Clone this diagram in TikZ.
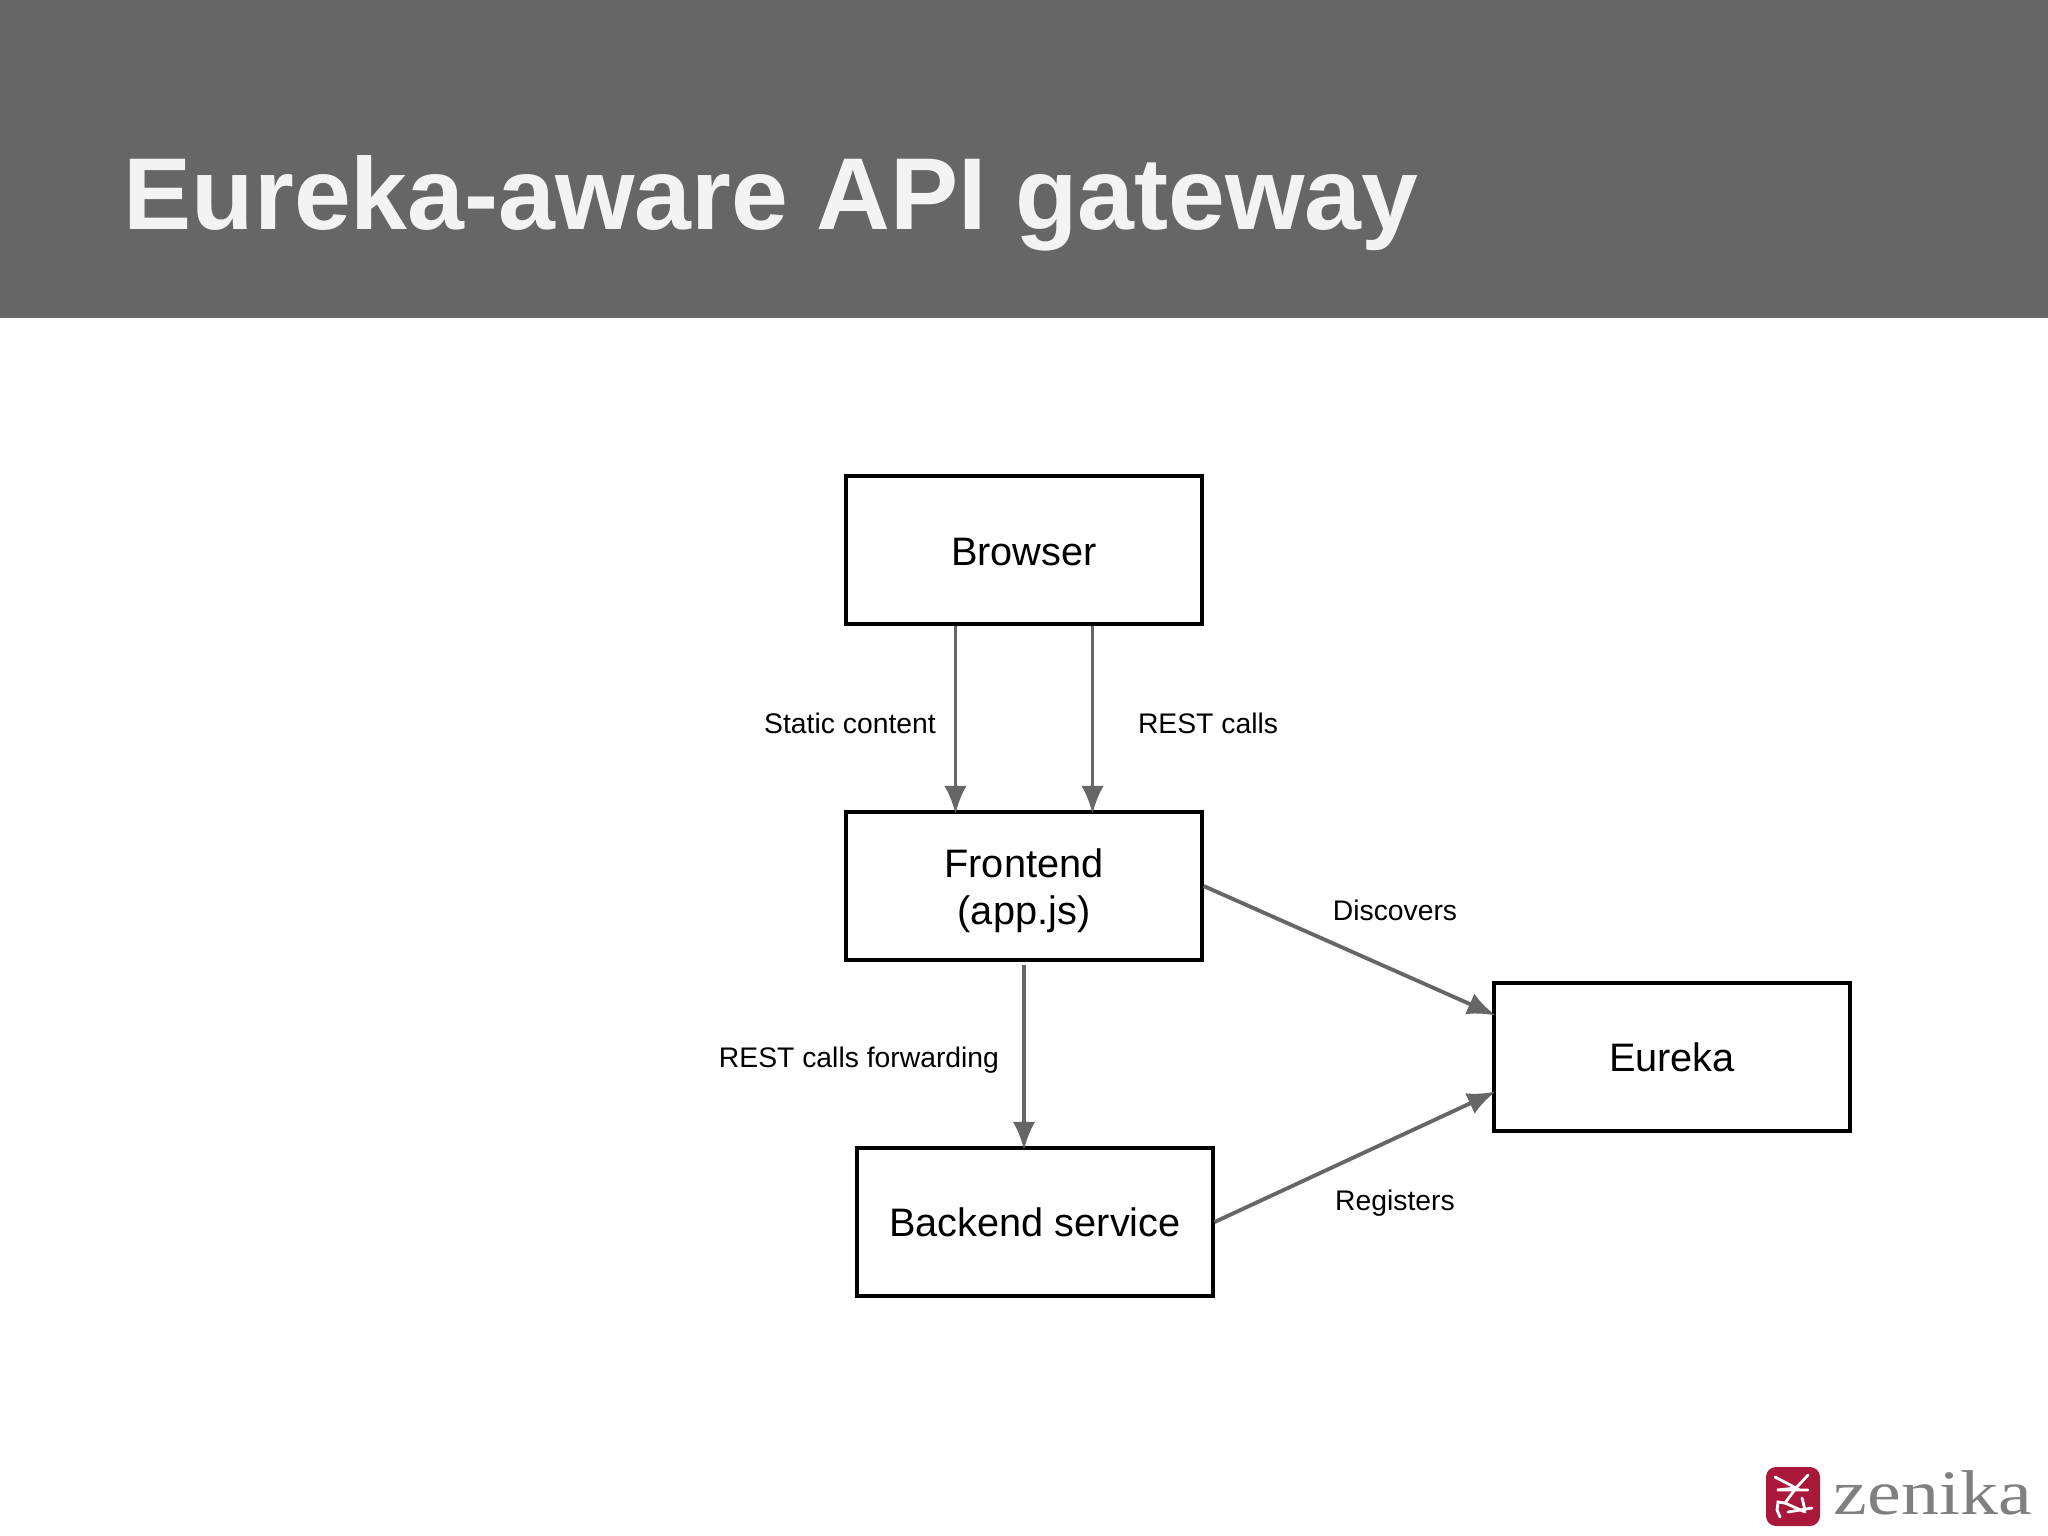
\documentclass[tikz,border=0pt]{standalone}
\usepackage{fontspec}
\setmainfont{Liberation Sans}
\newfontfamily\logofont{Liberation Serif}
\usetikzlibrary{arrows.meta}
\definecolor{headergray}{HTML}{666666}
\definecolor{titlewhite}{HTML}{F3F3F3}
\definecolor{flowgray}{HTML}{666666}
\definecolor{logored}{HTML}{A9173A}
\definecolor{logogray}{HTML}{808080}
\tikzset{
  box/.style={draw=black, line width=1.15pt, fill=white, minimum width=3.55cm, minimum height=1.47cm, inner sep=0pt, align=center, font=\fontsize{11.3}{13.2}\selectfont},
  flow/.style={draw=flowgray, line width=1.1pt, shorten >=-0.035cm, -{Latex[length=8pt,width=6.4pt]}},
  flowlabel/.style={inner sep=0pt, font=\fontsize{8.05}{9.5}\selectfont},
  glyph/.style={draw=white, line width=0.8pt, line cap=round}
}
\begin{document}
\begin{tikzpicture}[x=0.01cm,y=0.01cm]
\useasboundingbox (0,0) rectangle (2048,-1536);
% header
\fill [headergray] (0,0) rectangle (2048,-318);
\node (title) [anchor=base west, inner sep=0pt, text=titlewhite, font=\fontsize{29.05}{34}\selectfont\bfseries] at (123,-229) {Eureka-aware API gateway};
% boxes
\node (browser) [box] at (1024,-550) {\rule{0pt}{9pt}Browser};
\node (frontend) [box] at (1024,-886) {\rule{0pt}{10.9pt}Frontend\\(app.js)};
\node (backend) [box] at (1035,-1222) {Backend service};
\node (eureka) [box] at (1672,-1057) {Eureka};
% connectors
\coordinate (staticout) at ([xshift=-0.685cm]browser.south);
\coordinate (restout) at ([xshift=0.685cm]browser.south);
\coordinate (discoverin) at ([yshift=0.43cm]eureka.west);
\coordinate (registerin) at ([yshift=-0.36cm]eureka.west);
\coordinate (forwardout) at ([yshift=-0.03cm]frontend.south);
\draw [flow] (staticout) -- (staticout |- frontend.north);
\draw [flow] (restout) -- (restout |- frontend.north);
\draw [flow] (forwardout) -- (backend.north -| forwardout);
\draw [flow] (frontend.east) -- (discoverin);
\draw [flow] (backend.east) -- (registerin);
% labels
\node (staticlabel) [flowlabel] at (850,-723) {Static content};
\node (restlabel) [flowlabel] at (1208,-723) {REST calls};
\node (forwardlabel) [flowlabel] at (859,-1060) {REST calls forwarding};
\node (discoverlabel) [flowlabel] at (1395,-910) {Discovers};
\node (registerlabel) [flowlabel] at (1395,-1203) {Registers};
% logo
\fill [logored, rounded corners=0.1cm] (1766,-1467) rectangle (1820,-1526);
\draw [glyph] (1775,-1477) -- (1796,-1488) -- (1777,-1490) -- (1808,-1490);
\draw [glyph] (1808,-1475) -- (1796,-1488) -- (1785,-1503) -- (1805,-1512);
\draw [glyph] (1785,-1503) -- (1778,-1502) -- (1777,-1510) -- (1780,-1517);
\draw [glyph] (1812,-1508) -- (1788,-1512);
\draw [glyph] (1802,-1498) -- (1805,-1510);
\node (zenika) [anchor=base west, inner sep=0pt, text=logogray, xscale=1.2, font=\logofont\fontsize{18}{22}\selectfont] at (1833,-1514) {zenika};
\end{tikzpicture}
\end{document}
